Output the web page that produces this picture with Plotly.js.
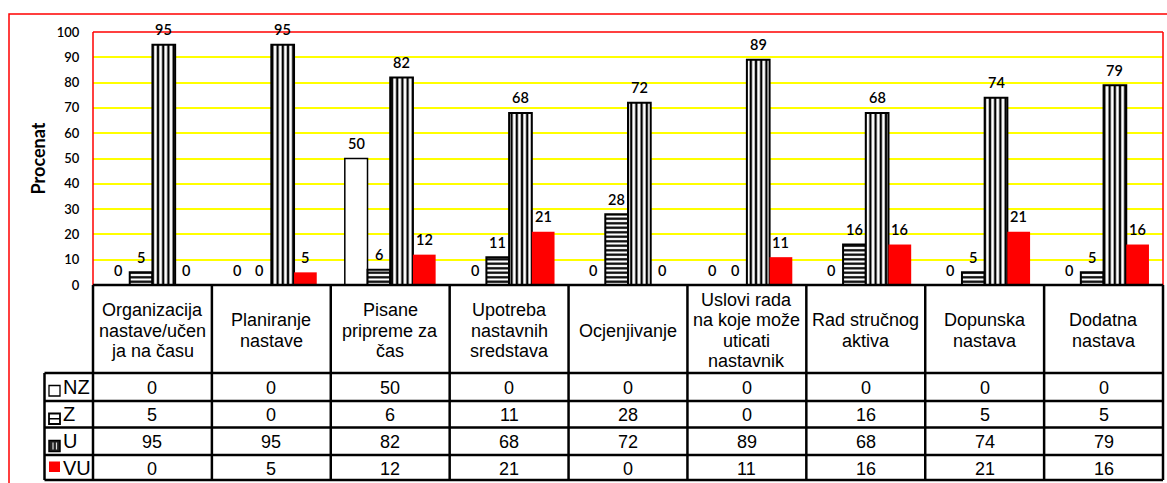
<!DOCTYPE html>
<html>
<head>
<meta charset="utf-8">
<script src="https://cdn.plot.ly/plotly-3.0.1.min.js"></script>
<style>html,body{margin:0;padding:0;background:#fff;}#chart{width:1167px;height:483px;}</style>
</head>
<body>
<div id="chart"></div>
<script>
// ---- Data ----
const categories = [
  "Organizacija<br>nastave/učen<br>ja na času",
  "Planiranje<br>nastave",
  "Pisane<br>pripreme za<br>čas",
  "Upotreba<br>nastavnih<br>sredstava",
  "Ocjenjivanje",
  "Uslovi rada<br>na koje može<br>uticati<br>nastavnik",
  "Rad stručnog<br>aktiva",
  "Dopunska<br>nastava",
  "Dodatna<br>nastava"
];
const seriesNames = ["NZ", "Z", "U", "VU"];
const valuesNZ = [0, 0, 50, 0, 0, 0, 0, 0, 0];
const valuesZ  = [5, 0, 6, 11, 28, 0, 16, 5, 5];
const valuesU  = [95, 95, 82, 68, 72, 89, 68, 74, 79];
const valuesVU = [0, 5, 12, 21, 0, 11, 16, 21, 16];
const yTickValues = [0, 10, 20, 30, 40, 50, 60, 70, 80, 90, 100];
const yTitle = "Procenat";

// ---- Layout geometry (pixels) ----
const W = 1167, H = 483;
const L = 93, R = 1163, T = 32, B = 285;
const px = p => (p - L) / (R - L);
const py = p => (B - p) / (B - T);

const seriesValues = [valuesNZ, valuesZ, valuesU, valuesVU];
const barW = 0.191;
const offsets = [-2 * barW, -barW, 0, barW];
const styles = [
  {color: "#ffffff", line: {color: "#000", width: 1.5}},
  {color: "#ffffff", line: {color: "#000", width: 2}, pattern: {shape: "-", fgcolor: "#000", bgcolor: "#fff", size: 4.5, solidity: 0.5}},
  {color: "#ffffff", line: {color: "#000", width: 2}, pattern: {shape: "|", fgcolor: "#000", bgcolor: "#fff", size: 5.2, solidity: 0.45}},
  {color: "#ff0000", line: {color: "#ff0000", width: 0}}
];
const xIdx = categories.map((c, i) => i);

const traces = seriesNames.map((name, s) => ({
  type: "bar",
  name: name,
  x: xIdx,
  y: seriesValues[s],
  width: barW,
  offset: offsets[s],
  marker: styles[s],
  hoverinfo: "none",
  showlegend: false
}));

const annotations = [];
// data labels
seriesValues.forEach((vals, s) => {
  vals.forEach((v, i) => {
    annotations.push({
      xref: "x", yref: "y", x: i + offsets[s] + barW / 2, y: v,
      text: String(v), showarrow: false, yanchor: "middle", yshift: 15,
      font: {family: "Lato", size: 14.5, color: "#000", weight: 600}
    });
  });
});

// table header text
const headerCenter = 330.5, lineGap = 20.5;
categories.forEach((c, i) => {
  const lines = c.split("<br>");
  const n = lines.length;
  lines.forEach((ln, k) => {
    annotations.push({
      xref: "paper", yref: "paper", x: (i + 0.5) / categories.length,
      y: py(headerCenter + (k - (n - 1) / 2) * lineGap),
      text: ln, showarrow: false, xanchor: "center", yanchor: "middle",
      font: {family: "Liberation Sans", size: 18, color: "#000"}
    });
  });
});

// table rows
const rowLines = [373, 401, 427.5, 455, 480];
seriesValues.forEach((vals, s) => {
  const yc = (rowLines[s] + rowLines[s + 1]) / 2;
  vals.forEach((v, i) => {
    annotations.push({
      xref: "paper", yref: "paper", x: (i + 0.5) / categories.length, y: py(yc + 1),
      text: String(v), showarrow: false, xanchor: "center", yanchor: "middle",
      font: {family: "Liberation Sans", size: 18, color: "#000"}
    });
  });
  annotations.push({
    xref: "paper", yref: "paper", x: px(61), y: py(yc),
    text: seriesNames[s], showarrow: false, xanchor: "left", yanchor: "middle",
    font: {family: "Liberation Sans", size: 20, color: "#000"}
  });
});

// ---- Shapes ----
const shapes = [];
const blk = {color: "#000", width: 2.5};
const red = {color: "#ff0000", width: 1.5};
// outer red frame
shapes.push({type: "rect", xref: "paper", yref: "paper", x0: px(9), x1: px(1180), y0: py(500), y1: py(14), line: red, fillcolor: "rgba(0,0,0,0)", layer: "below"});
// plot frame (red) left/top/right
shapes.push({type: "line", xref: "paper", yref: "paper", x0: 0, x1: 0, y0: 0, y1: 1, line: red});
shapes.push({type: "line", xref: "paper", yref: "paper", x0: 0, x1: 1, y0: 1, y1: 1, line: red});
shapes.push({type: "line", xref: "paper", yref: "paper", x0: 1, x1: 1, y0: 0, y1: 1, line: red});
// axis line / table top
shapes.push({type: "line", xref: "paper", yref: "paper", x0: 0, x1: 1, y0: 0, y1: 0, line: blk});
// column lines
for (let k = 0; k <= categories.length; k++) {
  shapes.push({type: "line", xref: "paper", yref: "paper", x0: k / categories.length, x1: k / categories.length, y0: py(B), y1: py(rowLines[rowLines.length - 1]), line: blk});
}
// legend column left line
shapes.push({type: "line", xref: "paper", yref: "paper", x0: px(44.5), x1: px(44.5), y0: py(rowLines[0]), y1: py(rowLines[rowLines.length - 1]), line: blk});
// row lines
rowLines.forEach(r => {
  shapes.push({type: "line", xref: "paper", yref: "paper", x0: px(44.5), x1: 1, y0: py(r), y1: py(r), line: blk});
});
// legend symbols
const symX0 = 49, symX1 = 60;
const symY = [[385.5, 396], [413.5, 424], [440.5, 451.5], [461.5, 472]];
shapes.push({type: "rect", xref: "paper", yref: "paper", x0: px(symX0), x1: px(symX1), y0: py(symY[0][1]), y1: py(symY[0][0]), line: {color: "#000", width: 1.3}, fillcolor: "#fff"});
shapes.push({type: "rect", xref: "paper", yref: "paper", x0: px(symX0), x1: px(symX1), y0: py(symY[1][1]), y1: py(symY[1][0]), line: {color: "#000", width: 1.8}, fillcolor: "#fff"});
shapes.push({type: "line", xref: "paper", yref: "paper", x0: px(symX0), x1: px(symX1), y0: py((symY[1][0] + symY[1][1]) / 2), y1: py((symY[1][0] + symY[1][1]) / 2), line: {color: "#000", width: 1.5}});
shapes.push({type: "rect", xref: "paper", yref: "paper", x0: px(symX0), x1: px(symX1), y0: py(symY[2][1]), y1: py(symY[2][0]), line: {color: "#000", width: 1.5}, fillcolor: "#222"});
shapes.push({type: "line", xref: "paper", yref: "paper", x0: px(53), x1: px(53), y0: py(symY[2][1] - 2), y1: py(symY[2][0] + 2), line: {color: "#ddd", width: 1.2}});
shapes.push({type: "line", xref: "paper", yref: "paper", x0: px(56.5), x1: px(56.5), y0: py(symY[2][1] - 2), y1: py(symY[2][0] + 2), line: {color: "#ddd", width: 1.2}});
shapes.push({type: "rect", xref: "paper", yref: "paper", x0: px(symX0), x1: px(symX1), y0: py(symY[3][1]), y1: py(symY[3][0]), line: {width: 0}, fillcolor: "#ff0000"});

const layout = {
  width: W, height: H,
  margin: {l: L, r: W - R, t: T, b: H - B, pad: 0},
  paper_bgcolor: "#fff", plot_bgcolor: "#fff",
  barmode: "overlay",
  showlegend: false,
  xaxis: {range: [-0.5, categories.length - 0.5], showticklabels: false, showgrid: false, zeroline: false, showline: false, ticks: "", fixedrange: true},
  yaxis: {
    range: [0, 100], tickvals: yTickValues, ticktext: yTickValues.map(String),
    showgrid: true, gridcolor: "#ffff00", gridwidth: 2, zeroline: false, showline: false,
    ticks: "outside", ticklen: 10, tickcolor: "rgba(0,0,0,0)",
    tickfont: {family: "Lato", size: 13, color: "#000", weight: 600},
    title: {text: yTitle, font: {family: "Lato", size: 18, color: "#000", weight: "bold"}, standoff: 6},
    automargin: false, fixedrange: true
  },
  shapes: shapes,
  annotations: annotations
};

Plotly.newPlot("chart", traces, layout, {displayModeBar: false, staticPlot: true});
</script>
</body>
</html>
